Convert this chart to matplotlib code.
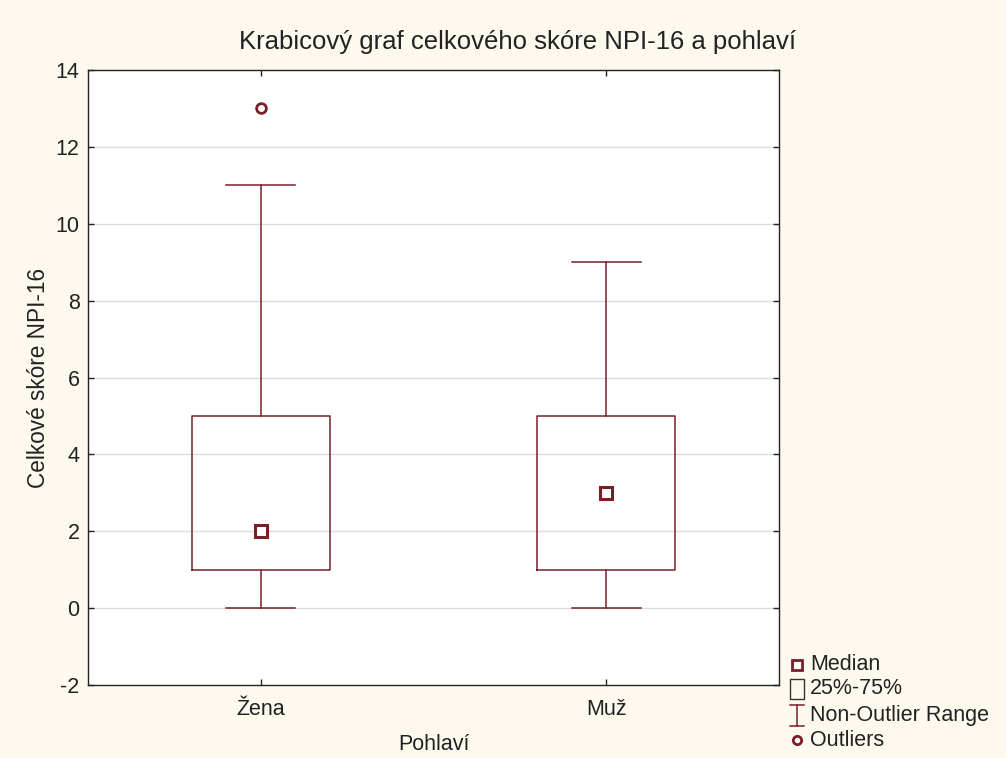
import matplotlib.pyplot as plt
from matplotlib.lines import Line2D
from matplotlib.patches import Rectangle

plt.rcParams['font.family'] = ['Liberation Sans', 'DejaVu Sans']
plt.rcParams['axes.unicode_minus'] = False

groups = ['Žena', 'Muž']
whislo = [0, 0]
q1 = [1, 1]
med = [2, 3]
q3 = [5, 5]
whishi = [11, 9]
fliers = [[13], []]

red = '#7a1f28'
bg = '#fdf9ee'
txt = '#222222'

fig = plt.figure(figsize=(10.06, 7.58), dpi=100, facecolor=bg)
ax = fig.add_axes([88/1006, 1 - 685/758, 691/1006, 615/758])
ax.set_facecolor('white')

stats = []
for i in range(len(groups)):
    stats.append({'label': groups[i], 'whislo': whislo[i], 'q1': q1[i], 'med': med[i],
                  'q3': q3[i], 'whishi': whishi[i], 'fliers': fliers[i]})

ax.bxp(stats, positions=[1, 2], widths=0.4, showcaps=True, showfliers=True,
       boxprops=dict(color=red, linewidth=1.1),
       whiskerprops=dict(color=red, linewidth=1.1),
       capprops=dict(color=red, linewidth=1.1),
       capwidths=0.2,
       medianprops=dict(linestyle='none'),
       flierprops=dict(marker='o', markersize=7, markerfacecolor='white',
                       markeredgecolor=red, markeredgewidth=2))
ax.plot([1, 2], med, linestyle='none', marker='s', markersize=8,
        markerfacecolor='white', markeredgecolor=red, markeredgewidth=2.2, zorder=5)

ax.set_xlim(0.5, 2.5)
ax.set_ylim(-2, 14)
ax.set_yticks(range(-2, 15, 2))
ax.set_xticks([1, 2])
ax.set_xticklabels(groups)
for y in range(0, 13, 2):
    ax.axhline(y, color='#dddddd', linewidth=1, zorder=0)
ax.tick_params(labelsize=15.5, colors=txt, length=4, width=1, direction='in',
               top=True, right=True)
ax.tick_params(axis='x', pad=10)
ax.tick_params(axis='y', pad=6)
for s in ax.spines.values():
    s.set_color(txt)
    s.set_linewidth(1)
fig.text(518 / 1006, 1 - 42 / 758, 'Krabicový graf celkového skóre NPI-16 a pohlaví',
         fontsize=18.5, ha='center', va='center', color=txt)
ax.set_xlabel('Pohlaví', fontsize=15.5, labelpad=10, color=txt)
ax.set_ylabel('Celkové skóre NPI-16', fontsize=16.3, labelpad=4, color=txt)

# legend
leg = ['Median', '25%-75%', 'Non-Outlier Range', 'Outliers']
ys = [665, 689, 715, 740]
mx = 797 / 1006
for lab, yp in zip(leg, ys):
    fy = 1 - yp / 758
    fig.text(810 / 1006, fy, lab, fontsize=15.5, va='center', ha='left', color=txt)
fig.add_artist(Line2D([mx], [1 - ys[0] / 758], marker='s', markersize=7, markerfacecolor='white',
                      markeredgecolor=red, markeredgewidth=2, transform=fig.transFigure))
fig.add_artist(Rectangle((790 / 1006, 1 - 699 / 758), 14 / 1006, 20 / 758, fill=False,
                         edgecolor='#333333', linewidth=1, transform=fig.transFigure))
fig.add_artist(Line2D([mx, mx], [1 - 705 / 758, 1 - 726 / 758], color=red, lw=1.1, transform=fig.transFigure))
fig.add_artist(Line2D([790 / 1006, 804 / 1006], [1 - 705 / 758] * 2, color=red, lw=1.1, transform=fig.transFigure))
fig.add_artist(Line2D([790 / 1006, 804 / 1006], [1 - 726 / 758] * 2, color=red, lw=1.1, transform=fig.transFigure))
fig.add_artist(Line2D([mx], [1 - ys[3] / 758], marker='o', markersize=6, markerfacecolor='white',
                      markeredgecolor=red, markeredgewidth=2, transform=fig.transFigure))

fig.savefig('out.png', dpi=100, facecolor=bg)
